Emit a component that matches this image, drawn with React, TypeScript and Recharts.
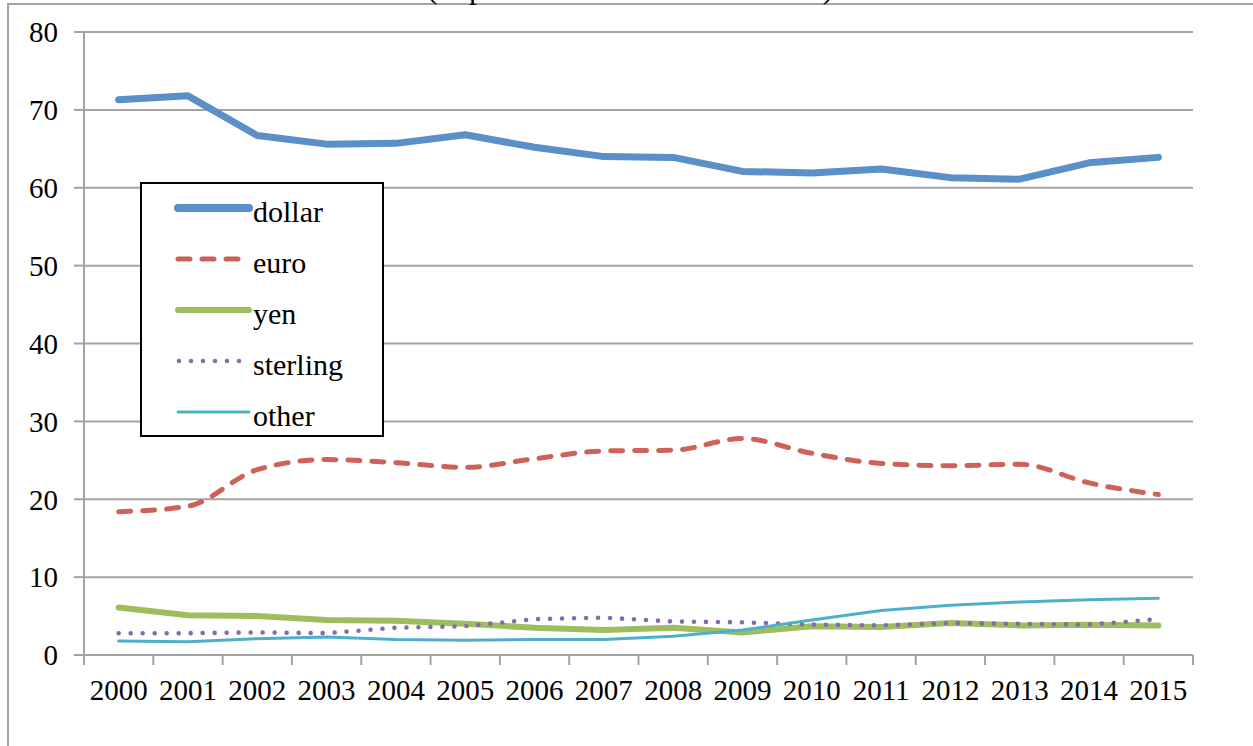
import React from 'react';
import { LineChart, Line, XAxis, YAxis, CartesianGrid } from 'recharts';

const YEARS = ['2000', '2001', '2002', '2003', '2004', '2005', '2006', '2007', '2008', '2009', '2010', '2011', '2012', '2013', '2014', '2015'];
const DOLLAR = [71.3, 71.8, 66.7, 65.6, 65.7, 66.8, 65.2, 64.0, 63.9, 62.1, 61.9, 62.4, 61.3, 61.1, 63.2, 63.9];
const EURO = [18.4, 19.1, 23.8, 25.1, 24.7, 24.1, 25.2, 26.2, 26.3, 27.8, 25.9, 24.6, 24.3, 24.5, 22.1, 20.6];
const YEN = [6.1, 5.1, 5.0, 4.5, 4.4, 4.0, 3.5, 3.2, 3.5, 2.9, 3.7, 3.6, 4.1, 3.8, 3.9, 3.8];
const STERLING = [2.8, 2.8, 2.9, 2.8, 3.5, 3.7, 4.6, 4.8, 4.3, 4.2, 3.9, 3.8, 4.1, 4.0, 3.9, 4.6];
const OTHER = [1.8, 1.7, 2.1, 2.3, 2.0, 1.9, 2.0, 2.0, 2.4, 3.2, 4.5, 5.7, 6.4, 6.8, 7.1, 7.3];
const Y_TICKS = [0, 10, 20, 30, 40, 50, 60, 70, 80];
const TITLE = '(in percent of allocated reserves)';

const W = 1253;
const H = 746;
const PLOT_LEFT = 84;
const PLOT_RIGHT = 1193;
const PLOT_TOP = 32;
const PLOT_BOTTOM = 655;
const BAND = (PLOT_RIGHT - PLOT_LEFT) / YEARS.length;
const FONT = '"Liberation Serif", "Times New Roman", Times, serif';
const GRAY = '#A3A3A3';

// one row per year for recharts
const data = YEARS.map((year, i) => ({
  year,
  dollar: DOLLAR[i],
  euro: EURO[i],
  yen: YEN[i],
  sterling: STERLING[i],
  other: OTHER[i],
}));

interface SeriesStyle {
  key: string;
  color: string;
  width: number;
  dash?: string;
  smooth?: boolean;
}

const SERIES: SeriesStyle[] = [
  { key: 'dollar', color: '#5A8FC8', width: 7 },
  { key: 'euro', color: '#CE625A', width: 5, dash: '12 12', smooth: true },
  { key: 'yen', color: '#9DBE5E', width: 6 },
  { key: 'sterling', color: '#8769AD', width: 4.6, dash: '0 12' },
  { key: 'other', color: '#4DB0CB', width: 3 },
];

// x ticks sit between categories (Excel style), labels at the centre
const XTick = (props: any) => {
  const { x, payload, index } = props;
  const left = x - BAND / 2;
  return (
    <g>
      <line x1={left} y1={PLOT_BOTTOM} x2={left} y2={PLOT_BOTTOM + 10} stroke={GRAY} strokeWidth={2} />
      {index === YEARS.length - 1 && (
        <line x1={x + BAND / 2} y1={PLOT_BOTTOM} x2={x + BAND / 2} y2={PLOT_BOTTOM + 10} stroke={GRAY} strokeWidth={2} />
      )}
      <text x={x} y={700} textAnchor="middle" fontSize={29} fontFamily={FONT} fill="#000">
        {payload.value}
      </text>
    </g>
  );
};

const LegendBox = () => (
  <div
    style={{
      position: 'absolute',
      left: 140,
      top: 182,
      width: 240,
      height: 251,
      border: '2px solid #000',
      background: '#fff',
    }}
  >
    <svg width={240} height={251}>
      {SERIES.map((s, i) => {
        const cy = 24 + i * 51;
        return (
          <g key={s.key}>
            <line
              x1={s.dash === '0 12' ? 37 : 36}
              x2={s.dash === '0 12' ? 100 : 107}
              y1={cy}
              y2={cy}
              stroke={s.color}
              strokeWidth={s.key === 'dollar' ? 8 : s.width}
              strokeDasharray={s.dash}
              strokeLinecap="round"
            />
            <text x={111} y={cy + 14} fontSize={30} fontFamily={FONT} fill="#000">
              {s.key}
            </text>
          </g>
        );
      })}
    </svg>
  </div>
);

export default function App() {
  return (
    <div
      style={{
        position: 'absolute',
        left: 0,
        top: 0,
        width: W,
        height: H,
        overflow: 'hidden',
        background: '#fff',
      }}
    >
      <div
        style={{
          position: 'absolute',
          left: 7,
          top: 3,
          width: W + 50,
          height: H + 50,
          border: `2px solid ${GRAY}`,
        }}
      />
      <svg width={W} height={30} style={{ position: 'absolute', left: 0, top: 0 }}>
        <text x={630} y={-2} textAnchor="middle" fontSize={31} fontFamily={FONT} fill="#000">
          {TITLE}
        </text>
      </svg>
      <div style={{ position: 'absolute', left: 0, top: 0 }}>
        <LineChart
          width={W}
          height={H}
          data={data}
          margin={{ top: PLOT_TOP, right: W - PLOT_RIGHT, bottom: 0, left: 14 }}
        >
          <CartesianGrid vertical={false} stroke={GRAY} strokeWidth={2} />
          <XAxis
            dataKey="year"
            scale="band"
            interval={0}
            height={H - PLOT_BOTTOM}
            axisLine={{ stroke: GRAY, strokeWidth: 2 }}
            tickLine={false}
            tick={<XTick />}
          />
          <YAxis
            width={PLOT_LEFT - 14}
            domain={[0, 80]}
            ticks={Y_TICKS}
            interval={0}
            axisLine={{ stroke: GRAY, strokeWidth: 2 }}
            tickLine={{ stroke: GRAY, strokeWidth: 2 }}
            tickSize={10}
            tickMargin={16}
            tick={{ fontSize: 29, fontFamily: FONT, fill: '#000' }}
          />
          {SERIES.map((s) => (
            <Line
              key={s.key}
              dataKey={s.key}
              type={s.smooth ? 'monotone' : 'linear'}
              stroke={s.color}
              strokeWidth={s.width}
              strokeDasharray={s.dash}
              strokeLinecap="round"
              strokeLinejoin="round"
              dot={false}
              activeDot={false}
              isAnimationActive={false}
            />
          ))}
        </LineChart>
      </div>
      <LegendBox />
    </div>
  );
}
